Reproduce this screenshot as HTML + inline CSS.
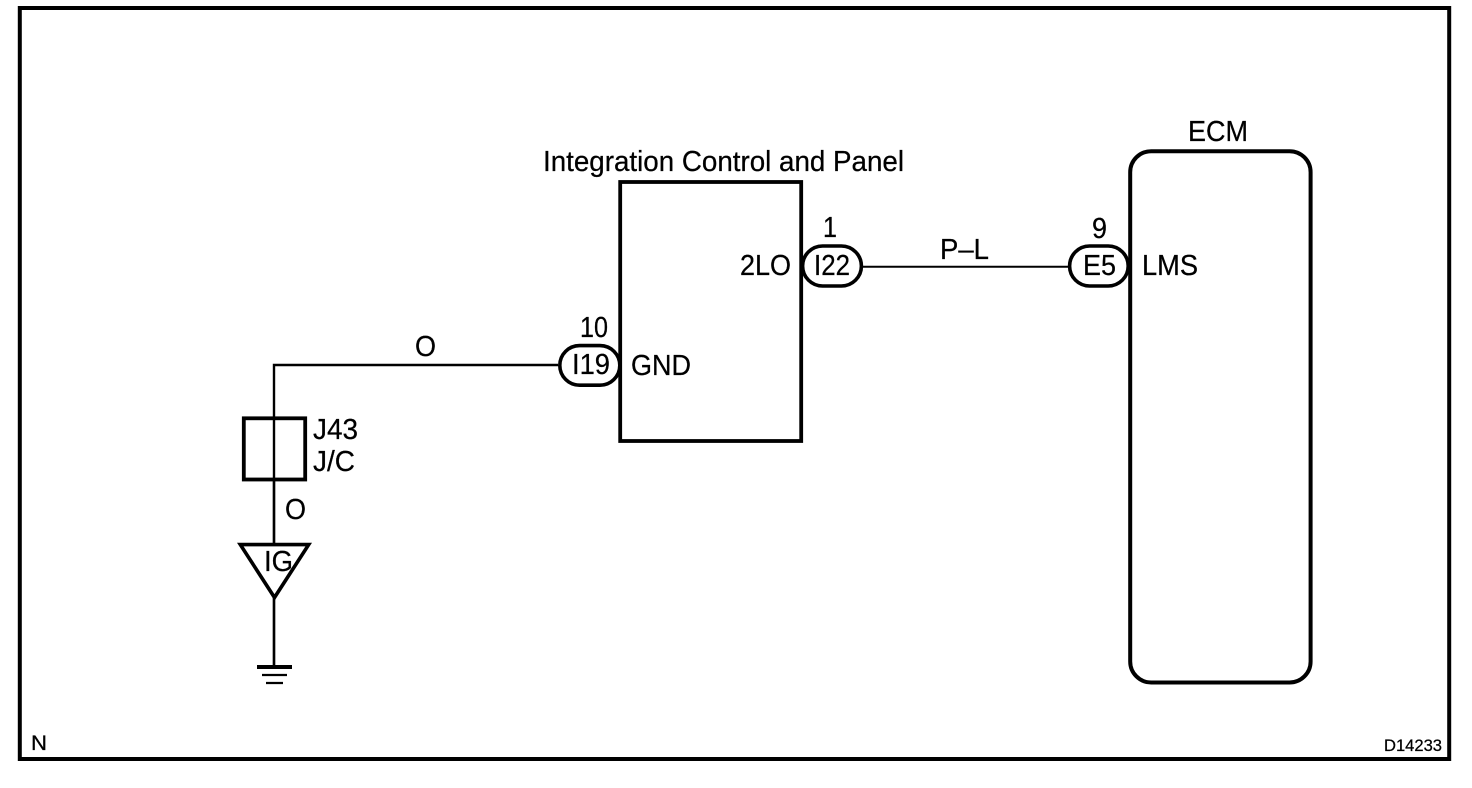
<!DOCTYPE html>
<html>
<head>
<meta charset="utf-8">
<style>
html,body{margin:0;padding:0;background:#fff;width:1472px;height:788px;overflow:hidden}
svg{display:block}
text{font-family:"Liberation Sans",Arial,sans-serif;font-size:28.5px;fill:#000;stroke:#000;stroke-width:.25px}
</style>
</head>
<body>
<svg width="1472" height="788" viewBox="0 0 1472 788" xmlns="http://www.w3.org/2000/svg">
<rect width="1472" height="788" fill="#fff"/>
<rect x="19.8" y="8" width="1429.4" height="751" fill="none" stroke="#000" stroke-width="4"/>

<rect x="620.2" y="182" width="181" height="259" fill="none" stroke="#000" stroke-width="3.8"/>
<rect x="1130.2" y="151.2" width="180.4" height="531.3" rx="21" ry="21" fill="none" stroke="#000" stroke-width="4"/>

<g fill="none" stroke="#000">
<path d="M274 666V365H558" stroke-width="2.4"/>
<rect x="243.8" y="418.3" width="61.4" height="61.2" stroke-width="3.8"/>
<path d="M240.3 544.6H308.7L274.5 597.5Z" stroke-width="3.6" fill="#fff"/>
<path d="M274 543V480M274 598V667" stroke-width="2.4"/>
<path d="M257 667H292" stroke-width="4"/>
<path d="M262 675H287M266 683H283" stroke-width="2.2"/>
<path d="M862 266.7H1069" stroke-width="2"/>
<rect x="559.8" y="345.6" width="60" height="39.6" rx="19.8" ry="19.8" stroke-width="3.6"/>
<rect x="802.6" y="246" width="58.8" height="40" rx="20" ry="20" stroke-width="3.6"/>
<rect x="1069.6" y="246" width="58.6" height="40" rx="20" ry="20" stroke-width="3.6"/>
</g>

<text x="543" y="171" textLength="361" lengthAdjust="spacingAndGlyphs">Integration Control and Panel</text>
<text x="1188" y="141" textLength="60" lengthAdjust="spacingAndGlyphs">ECM</text>
<text x="823" y="237" textLength="14" lengthAdjust="spacingAndGlyphs">1</text>
<text x="1092" y="238" textLength="15" lengthAdjust="spacingAndGlyphs">9</text>
<text x="580" y="337" textLength="28" lengthAdjust="spacingAndGlyphs">10</text>
<text x="740" y="275" textLength="51" lengthAdjust="spacingAndGlyphs">2LO</text>
<text x="814" y="275" textLength="36" lengthAdjust="spacingAndGlyphs">I22</text>
<text x="1083" y="275" textLength="33" lengthAdjust="spacingAndGlyphs">E5</text>
<text x="1142" y="275" textLength="56" lengthAdjust="spacingAndGlyphs">LMS</text>
<text x="940" y="259" textLength="49" lengthAdjust="spacingAndGlyphs">P–L</text>
<text x="572" y="374" textLength="38" lengthAdjust="spacingAndGlyphs">I19</text>
<text x="631" y="375" textLength="60" lengthAdjust="spacingAndGlyphs">GND</text>
<text x="415" y="356" textLength="21" lengthAdjust="spacingAndGlyphs">O</text>
<text x="285" y="519" textLength="21" lengthAdjust="spacingAndGlyphs">O</text>
<text x="313" y="439" textLength="45" lengthAdjust="spacingAndGlyphs">J43</text>
<text x="313" y="471" textLength="42" lengthAdjust="spacingAndGlyphs">J/C</text>
<text x="264" y="571" textLength="29" lengthAdjust="spacingAndGlyphs">IG</text>
<text x="31" y="750" style="font-size:21px" textLength="16" lengthAdjust="spacingAndGlyphs">N</text>
<text x="1384" y="751" style="font-size:16.5px" textLength="58" lengthAdjust="spacingAndGlyphs">D14233</text>
</svg>
</body>
</html>
